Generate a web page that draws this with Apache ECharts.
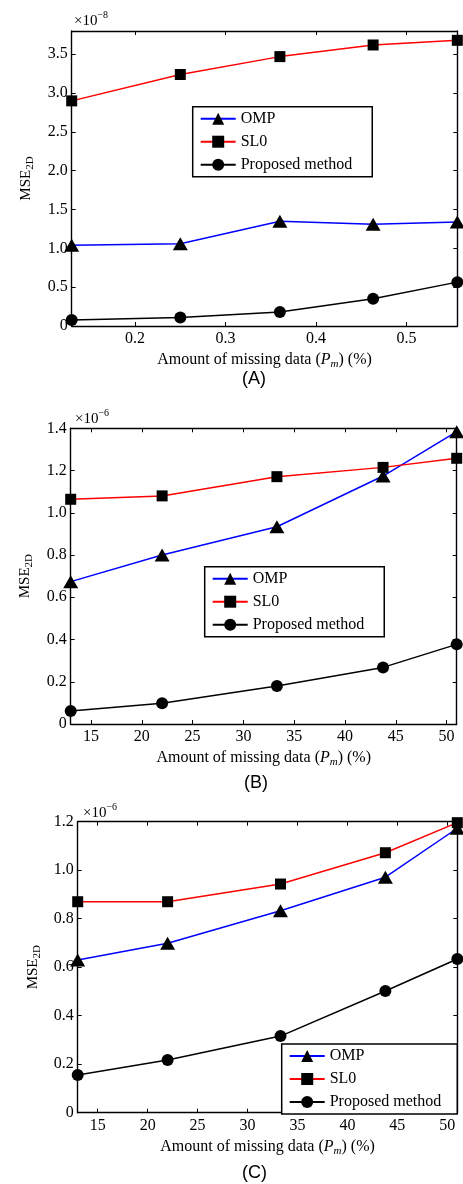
<!DOCTYPE html>
<html>
<head>
<meta charset="utf-8">
<script src="https://cdn.jsdelivr.net/npm/echarts@6/dist/echarts.min.js"></script>
<style>html,body{margin:0;padding:0;background:#fff}#c{width:463px;height:1184px}</style>
</head>
<body>
<div id="c"></div>
<script>
// ---- data ----
const seriesNames = ['OMP', 'SL0', 'Proposed method'];
const xA = [0.13, 0.25, 0.36, 0.463, 0.556];
const ompA = [1.04, 1.06, 1.35, 1.31, 1.34];
const sl0A = [2.90, 3.24, 3.47, 3.62, 3.68];
const propA = [0.077, 0.11, 0.18, 0.35, 0.565];
const xTicksA = [0.2, 0.3, 0.4, 0.5];
const yTicksA = [0, 0.5, 1.0, 1.5, 2.0, 2.5, 3.0, 3.5];

const xB = [13, 22, 33.3, 43.75, 51];
const ompB = [0.674, 0.80, 0.934, 1.174, 1.384];
const sl0B = [1.064, 1.08, 1.171, 1.215, 1.258];
const propB = [0.062, 0.098, 0.18, 0.268, 0.377];
const xTicksB = [15, 20, 25, 30, 35, 40, 45, 50];
const yTicksB = [0, 0.2, 0.4, 0.6, 0.8, 1.0, 1.2, 1.4];

const xC = [13, 22, 33.3, 43.8, 51];
const ompC = [0.63, 0.699, 0.833, 0.971, 1.173];
const sl0C = [0.870, 0.870, 0.943, 1.072, 1.196];
const propC = [0.155, 0.217, 0.316, 0.502, 0.634];
const xTicksC = [15, 20, 25, 30, 35, 40, 45, 50];
const yTicksC = [0, 0.2, 0.4, 0.6, 0.8, 1.0, 1.2];

const panelLabels = ['(A)', '(B)', '(C)'];
const exponents = ['\u22128', '\u22126', '\u22126'];

// ---- layout ----
const SERIF = 'Liberation Serif';
const panels = [
  {x: xA, omp: ompA, sl0: sl0A, prop: propA, xt: xTicksA, yt: yTicksA, xmin: 0.13, xmax: 0.556, ymax: 3.8,
   grid: {left: 71.7, top: 31, width: 385.6, height: 295}, yGap: 36, yfmt: v => v === 0 ? '0' : v.toFixed(1),
   legend: {left: 192.7, top: 106.7, padR: 20}, exp: {x: 74, y: 20}, lab: {x: 254, y: 380}},
  {x: xB, omp: ompB, sl0: sl0B, prop: propB, xt: xTicksB, yt: yTicksB, xmin: 13, xmax: 51, ymax: 1.4,
   grid: {left: 70.7, top: 428.3, width: 386, height: 295.7}, yGap: 36, yfmt: v => v === 0 ? '0' : v.toFixed(1),
   legend: {left: 204.7, top: 566.7, padR: 20}, exp: {x: 75, y: 418}, lab: {x: 256, y: 784}},
  {x: xC, omp: ompC, sl0: sl0C, prop: propC, xt: xTicksC, yt: yTicksC, xmin: 13, xmax: 51, ymax: 1.2,
   grid: {left: 77.7, top: 821.7, width: 379.6, height: 291}, yGap: 35, yfmt: v => v === 0 ? '0' : v.toFixed(1),
   legend: {left: 281.7, top: 1044, padR: 16}, exp: {x: 83, y: 812}, lab: {x: 254, y: 1174}}
];

const grid = [], xAxis = [], yAxis = [], series = [], legend = [], graphic = [];
const axisLineStyle = {color: '#000', width: 1.4};
const tickCommon = {inside: true, length: 4, lineStyle: {color: '#000', width: 1}};

panels.forEach((p, i) => {
  grid.push(Object.assign({containLabel: false, show: false}, p.grid));
  xAxis.push({type: 'value', gridIndex: i, position: 'bottom', min: p.xmin, max: p.xmax,
    axisLine: {show: true, onZero: false, lineStyle: axisLineStyle},
    axisTick: Object.assign({customValues: p.xt}, tickCommon),
    axisLabel: {customValues: p.xt, formatter: v => String(v), color: '#000', fontFamily: SERIF, fontSize: 16, margin: 5},
    splitLine: {show: false},
    name: '{a|Amount of missing data (}{i|P}{s|m}{a|) (%)}', nameLocation: 'middle', nameGap: 24,
    nameTextStyle: {color: '#000', rich: {
      a: {fontFamily: SERIF, fontSize: 16, color: '#000', lineHeight: 20},
      i: {fontFamily: SERIF, fontSize: 16, fontStyle: 'italic', color: '#000', lineHeight: 20},
      s: {fontFamily: SERIF, fontSize: 11, fontStyle: 'italic', color: '#000', lineHeight: 20, padding: [8, 0, 0, 0]}
    }}
  });
  xAxis.push({type: 'value', gridIndex: i, position: 'top', min: p.xmin, max: p.xmax,
    axisLine: {show: true, onZero: false, lineStyle: axisLineStyle},
    axisTick: Object.assign({customValues: p.xt}, tickCommon),
    axisLabel: {show: false}, splitLine: {show: false}});
  yAxis.push({type: 'value', gridIndex: i, position: 'left', min: 0, max: p.ymax,
    axisLine: {show: true, onZero: false, lineStyle: axisLineStyle},
    axisTick: Object.assign({customValues: p.yt}, tickCommon),
    axisLabel: {customValues: p.yt, formatter: p.yfmt, color: '#000', fontFamily: SERIF, fontSize: 16, margin: 4},
    splitLine: {show: false},
    name: '{a|MSE}{s|2D}', nameLocation: 'middle', nameGap: p.yGap, nameRotate: 90,
    nameTextStyle: {color: '#000', rich: {
      a: {fontFamily: SERIF, fontSize: 15, color: '#000', lineHeight: 20},
      s: {fontFamily: SERIF, fontSize: 11, color: '#000', lineHeight: 20, padding: [8, 0, 0, 0]}
    }}
  });
  yAxis.push({type: 'value', gridIndex: i, position: 'right', min: 0, max: p.ymax,
    axisLine: {show: true, onZero: false, lineStyle: axisLineStyle},
    axisTick: Object.assign({customValues: p.yt}, tickCommon),
    axisLabel: {show: false}, splitLine: {show: false}});

  const mk = (vals) => p.x.map((x, k) => [x, vals[k]]);
  const defs = [
    {name: seriesNames[0], data: mk(p.omp), color: '#0000ff', symbol: 'triangle', size: [15, 13]},
    {name: seriesNames[1], data: mk(p.sl0), color: '#ff0000', symbol: 'rect', size: 11},
    {name: seriesNames[2], data: mk(p.prop), color: '#000000', symbol: 'circle', size: 12}
  ];
  defs.forEach(d => {
    series.push({type: 'line', name: d.name, xAxisIndex: i * 2, yAxisIndex: i * 2, data: d.data,
      symbol: d.symbol, symbolSize: d.size, clip: false, showAllSymbol: true,
      lineStyle: {color: d.color, width: 1.5},
      itemStyle: {color: '#000', borderWidth: 0},
      emphasis: {disabled: true}});
  });

  legend.push({show: true, orient: 'vertical', left: p.legend.left, top: p.legend.top,
    data: seriesNames, itemWidth: 35, itemHeight: 15, itemGap: 7,
    padding: [4, p.legend.padR, 4, 7], borderColor: '#000', borderWidth: 1.5, backgroundColor: '#fff',
    selectedMode: false,
    textStyle: {fontFamily: SERIF, fontSize: 16, color: '#000'}});

  graphic.push({type: 'text', left: p.exp.x, top: p.exp.y - 10, z: 100,
    style: {text: '{a|\u00d710}{s|' + exponents[i] + '}', rich: {
      a: {fontFamily: SERIF, fontSize: 15, fill: '#000', lineHeight: 20, padding: [4, 0, 0, 0]},
      s: {fontFamily: SERIF, fontSize: 10, fill: '#000', lineHeight: 20, padding: [0, 0, 8, 0]}
    }}});
  graphic.push({type: 'text', left: p.lab.x - 12, top: p.lab.y - 10, z: 100,
    style: {text: panelLabels[i], fontFamily: 'Liberation Sans', fontSize: 18, fill: '#000'}});
});

const chart = echarts.init(document.getElementById('c'), null, {renderer: 'canvas'});
chart.setOption({animation: false, backgroundColor: '#fff', grid, xAxis, yAxis, series, legend, graphic});
</script>
</body>
</html>
